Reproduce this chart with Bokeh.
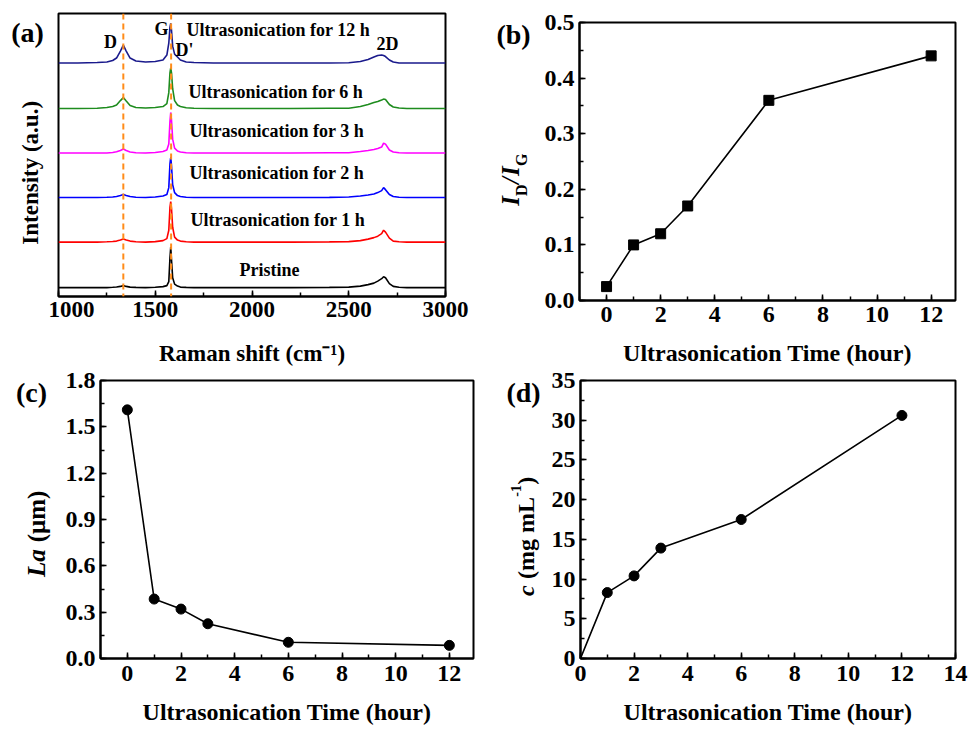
import math
from bokeh.plotting import figure
from bokeh.models import (Span, SingleIntervalTicker, PrintfTickFormatter,
                          Range1d, ColumnDataSource)
from bokeh.layouts import column, row
from bokeh.core.properties import value
from bokeh.embed import file_html
from bokeh.resources import INLINE

# ---------------- data ----------------
raman_shift = [1000, 1100, 1200, 1250, 1280, 1300, 1320, 1335, 1350, 1370,
               1400, 1450, 1500, 1540, 1560, 1570, 1576, 1580, 1584, 1590,
               1600, 1615, 1630, 1660, 1700, 1800, 2000, 2200, 2400, 2500,
               2560, 2600, 2630, 2650, 2670, 2680, 2690, 2710, 2730, 2760,
               2800, 2900, 3000]

int_pristine = [0, 0, 0, 0, 0.3, 0.6, 1.2, 2, 1.2, 0.5,
                0.2, 0, 0.3, 1, 2, 6, 30, 41, 28, 10,
                3.5, 1.5, 0.5, 0.2, 0, 0, 0, 0, 0.2, 0.5,
                1.5, 3, 4.5, 6.5, 9, 11, 10, 4, 1.2, 0.3,
                0, 0, 0]
int_1h = [0, 0, 0, 0.3, 0.6, 1, 2, 3, 2, 1,
          0.3, 0, 0.5, 1.5, 3.5, 12, 35, 41, 34, 15,
          5, 2, 1, 0.3, 0, 0, 0, 0, 0.2, 0.5,
          1.5, 3, 4.5, 6, 8.5, 12, 10, 4, 1, 0.3,
          0, 0, 0]
int_2h = [0, 0, 0, 0.3, 0.6, 1, 2, 3, 2, 1,
          0.3, 0, 0.5, 1.5, 3, 10, 34, 41, 32, 13,
          5, 2, 1, 0.3, 0, 0, 0, 0, 0.2, 0.5,
          1.5, 2.5, 3.5, 5, 7, 10, 8, 3, 1, 0.3,
          0, 0, 0]
int_3h = [0, 0, 0, 0, 0.5, 1.2, 2.5, 4, 2.5, 1,
          0.3, 0, 0.5, 1.5, 3, 9, 32, 41, 33, 14,
          5, 2, 1, 0.3, 0, 0, 0, 0, 0.2, 0.3,
          1.5, 2.5, 3.5, 4.5, 6, 10, 9, 3, 1, 0.2,
          0, 0, 0]
int_6h = [0, 0, 0.3, 1, 2, 3.5, 8, 11, 7.5, 3,
          1, 0.5, 1, 2, 5, 16, 36, 41, 36, 20,
          8, 3.5, 2, 0.8, 0.3, 0, 0, 0, 0.3, 0.3,
          2, 4, 6, 7, 8.5, 9.5, 9, 4, 1.5, 0.5,
          0, 0, 0]
int_12h = [0, 0, 0.5, 1, 2.5, 5, 12, 18, 12, 5,
           2, 1, 1.5, 3, 8, 20, 36, 40, 33, 17,
           9, 6, 3, 1, 0.5, 0, 0, 0, 0, 0.3,
           1.5, 3.5, 6, 7.5, 8, 7.5, 6.5, 3, 1, 0,
           0, 0, 0]

spectra = [int_pristine, int_1h, int_2h, int_3h, int_6h, int_12h]
spectrum_offsets = [9, 55, 100, 145, 190, 236]
spectrum_colors = ["#000000", "#FF0000", "#0000FF", "#FF00FF", "#1E8C1E", "#1A1A8C"]
spectrum_labels = ["Pristine", "Ultrasonication for 1 h", "Ultrasonication for 2 h",
                   "Ultrasonication for 3 h", "Ultrasonication for 6 h",
                   "Ultrasonication for 12 h"]
peak_names = ["D", "G", "D'", "2D"]
band_positions = [1335, 1582]

time_h = [0, 1, 2, 3, 6, 12]
id_ig = [0.025, 0.10, 0.12, 0.17, 0.36, 0.44]
la_um = [1.61, 0.385, 0.32, 0.225, 0.105, 0.085]
conc = [0, 8.3, 10.4, 13.9, 17.5, 30.6]

FONT = "Liberation Serif"
V = math.pi / 2


class Geo:
    def __init__(self, L, R, T, B, x0, x1, y0, y1):
        self.L, self.R, self.T, self.B = L, R, T, B
        self.x0, self.x1, self.y0, self.y1 = x0, x1, y0, y1

    def x(self, px):
        return self.x0 + (px - self.L) / (self.R - self.L) * (self.x1 - self.x0)

    def y(self, py):
        return self.y0 + (self.B - py) / (self.B - self.T) * (self.y1 - self.y0)


def make_fig(g, width, height, left, right, top, bottom, tick_px, label_px, s1, s2):
    p = figure(width=width, height=height, output_backend="svg", toolbar_location=None,
               x_range=Range1d(g.x0, g.x1), y_range=Range1d(g.y0, g.y1),
               min_border_left=left, min_border_right=right,
               min_border_top=top, min_border_bottom=bottom)
    p.grid.visible = False
    p.outline_line_color = "black"
    p.outline_line_width = 2
    p.background_fill_color = "white"
    p.border_fill_color = "white"
    for ax in (p.xaxis[0], p.yaxis[0]):
        ax.axis_line_width = 2
        ax.major_tick_in = 6
        ax.major_tick_out = 0
        ax.minor_tick_in = 4
        ax.minor_tick_out = 0
        ax.major_tick_line_width = 1.5
        ax.minor_tick_line_width = 1.5
        ax.major_label_text_font = FONT
        ax.major_label_text_font_style = "bold"
        ax.major_label_text_font_size = tick_px
        ax.major_label_text_color = "black"
        ax.axis_label_text_font = FONT
        ax.axis_label_text_font_style = "bold"
        ax.axis_label_text_font_size = label_px
        ax.axis_label_text_color = "black"
        ax.major_label_standoff = s1
        ax.axis_label_standoff = s2
    p.yaxis[0].major_label_standoff = 5
    return p


def label_fig(page_left, width, height, top, bottom, T, B, items):
    """A blank strip beside a panel; its frame matches the panel frame (rows align
    frames), with data coordinates equal to page pixels (y negated)."""
    p = figure(width=width, height=height, output_backend="svg", toolbar_location=None,
               x_range=Range1d(page_left, page_left + width), y_range=Range1d(-B, -T),
               min_border_left=0, min_border_right=0,
               min_border_top=top, min_border_bottom=bottom,
               x_axis_location=None, y_axis_location=None)
    p.grid.visible = False
    p.outline_line_color = None
    p.background_fill_color = "white"
    p.border_fill_color = "white"
    for t, px, py, size, style, ang, align in items:
        p.text(x=[px], y=[-py], text=[t], angle=ang,
               text_font=value(FONT), text_font_style=style, text_font_size=size,
               text_color="black", text_align=align, text_baseline="middle")
    return p


ROW1_H = 368
ROW2_H = 359

# ---------------- (a) Raman spectra ----------------
ga = Geo(58, 445, 13, 299, 1000, 3000, 0, 286)
pa = make_fig(ga, 440, ROW1_H, 10, 43, 13, 69, "23px", "23px", 5, 21)
pa.xaxis[0].ticker = SingleIntervalTicker(interval=500, num_minor_ticks=2)
pa.yaxis[0].visible = False
pa.xaxis[0].axis_label = "Raman shift (cm⁻¹)"

for inten, off, col in zip(spectra, spectrum_offsets, spectrum_colors):
    pa.line(raman_shift, [v + off for v in inten], line_color=col, line_width=1.6)

for bp in band_positions:
    pa.add_layout(Span(location=bp, dimension="height", line_color="#FF8C1A",
                       line_dash="6 4", line_width=2))

lab_px = [(239, 272), (190, 222), (189, 174), (189, 132), (188, 92), (186, 30)]
lab_src = ColumnDataSource(dict(
    x=[ga.x(a) for a, b in lab_px], y=[ga.y(b) for a, b in lab_px], t=spectrum_labels))
pa.text(x="x", y="y", text="t", source=lab_src, text_font=value(FONT),
        text_font_style="bold", text_font_size="18px", text_color="black",
        text_align="left", text_baseline="middle")

peak_px = [(110, 42), (161, 29), (184, 50), (387, 44)]
peak_src = ColumnDataSource(dict(
    x=[ga.x(a) for a, b in peak_px], y=[ga.y(b) for a, b in peak_px], t=peak_names))
pa.text(x="x", y="y", text="t", source=peak_src, text_font=value(FONT),
        text_font_style="bold", text_font_size="18px", text_color="black",
        text_align="center", text_baseline="middle")

la = label_fig(0, 48, ROW1_H, 13, 69, 13, 299, [
    ("(a)", 27, 32, "28px", "bold", 0, "center"),
    ("Intensity (a.u.)", 30, 174, "23px", "bold", V, "center"),
])

# ---------------- (b) ID/IG ----------------
gb = Geo(579, 955, 22, 301, -1, 12.9, 0, 0.5)
pb = make_fig(gb, 436, ROW1_H, 45, 15, 22, 67, "24px", "24px", 6, 15)
pb.xaxis[0].ticker = SingleIntervalTicker(interval=2, num_minor_ticks=2)
pb.yaxis[0].ticker = SingleIntervalTicker(interval=0.1, num_minor_ticks=2)
pb.yaxis[0].formatter = PrintfTickFormatter(format="%.1f")
pb.xaxis[0].axis_label = "Ultrasonication Time (hour)"
pb.line(time_h, id_ig, line_color="black", line_width=1.6)
pb.scatter(time_h, id_ig, marker="square", size=10, color="black")

lb = label_fig(488, 46, ROW1_H, 22, 67, 22, 301, [
    ("(b)", 513, 34, "28px", "bold", 0, "center"),
    ("I", 510, 206, "25px", "bold italic", V, "left"),
    ("D", 521, 196, "16px", "bold", V, "left"),
    ("/", 510, 184, "25px", "bold italic", V, "left"),
    ("I", 510, 176, "25px", "bold italic", V, "left"),
    ("G", 521, 166, "16px", "bold", V, "left"),
])

# ---------------- (c) La ----------------
gc = Geo(100, 473, 380, 660, -1, 12.9, 0, 1.8)
pc = make_fig(gc, 436, ROW2_H, 48, 15, 12, 67, "24px", "24px", 7, 15)
pc.xaxis[0].ticker = SingleIntervalTicker(interval=2, num_minor_ticks=2)
pc.yaxis[0].ticker = SingleIntervalTicker(interval=0.3, num_minor_ticks=2)
pc.yaxis[0].formatter = PrintfTickFormatter(format="%.1f")
pc.xaxis[0].axis_label = "Ultrasonication Time (hour)"
pc.line(time_h, la_um, line_color="black", line_width=1.6)
pc.scatter(time_h, la_um, marker="circle", size=10, color="black")

lc = label_fig(0, 52, ROW2_H, 12, 67, 380, 660, [
    ("(c)", 31, 392, "28px", "bold", 0, "center"),
    ("La", 36, 578, "25px", "bold italic", V, "left"),
    ("(μm)", 36, 543, "25px", "bold", V, "left"),
])

# ---------------- (d) concentration ----------------
gd = Geo(580, 955, 380, 660, 0, 14, 0, 35)
pd_ = make_fig(gd, 425, ROW2_H, 35, 15, 12, 67, "24px", "24px", 7, 15)
pd_.xaxis[0].ticker = SingleIntervalTicker(interval=2, num_minor_ticks=2)
pd_.yaxis[0].ticker = SingleIntervalTicker(interval=5, num_minor_ticks=2)
pd_.xaxis[0].axis_label = "Ultrasonication Time (hour)"
pd_.line(time_h, conc, line_color="black", line_width=1.6)
pd_.scatter(time_h[1:], conc[1:], marker="circle", size=10, color="black")

ld = label_fig(488, 57, ROW2_H, 12, 67, 380, 660, [
    ("(d)", 523, 392, "28px", "bold", 0, "center"),
    ("c", 525, 597, "24px", "bold italic", V, "left"),
    ("(mg mL", 525, 580, "24px", "bold", V, "left"),
    ("-1", 515, 497, "14px", "bold", V, "left"),
    (")", 525, 485, "24px", "bold", V, "left"),
])

layout = row(column(row(la, pa), row(lc, pc)),
             column(row(lb, pb), row(ld, pd_)))
open("out.html", "w").write(file_html(layout, INLINE))
